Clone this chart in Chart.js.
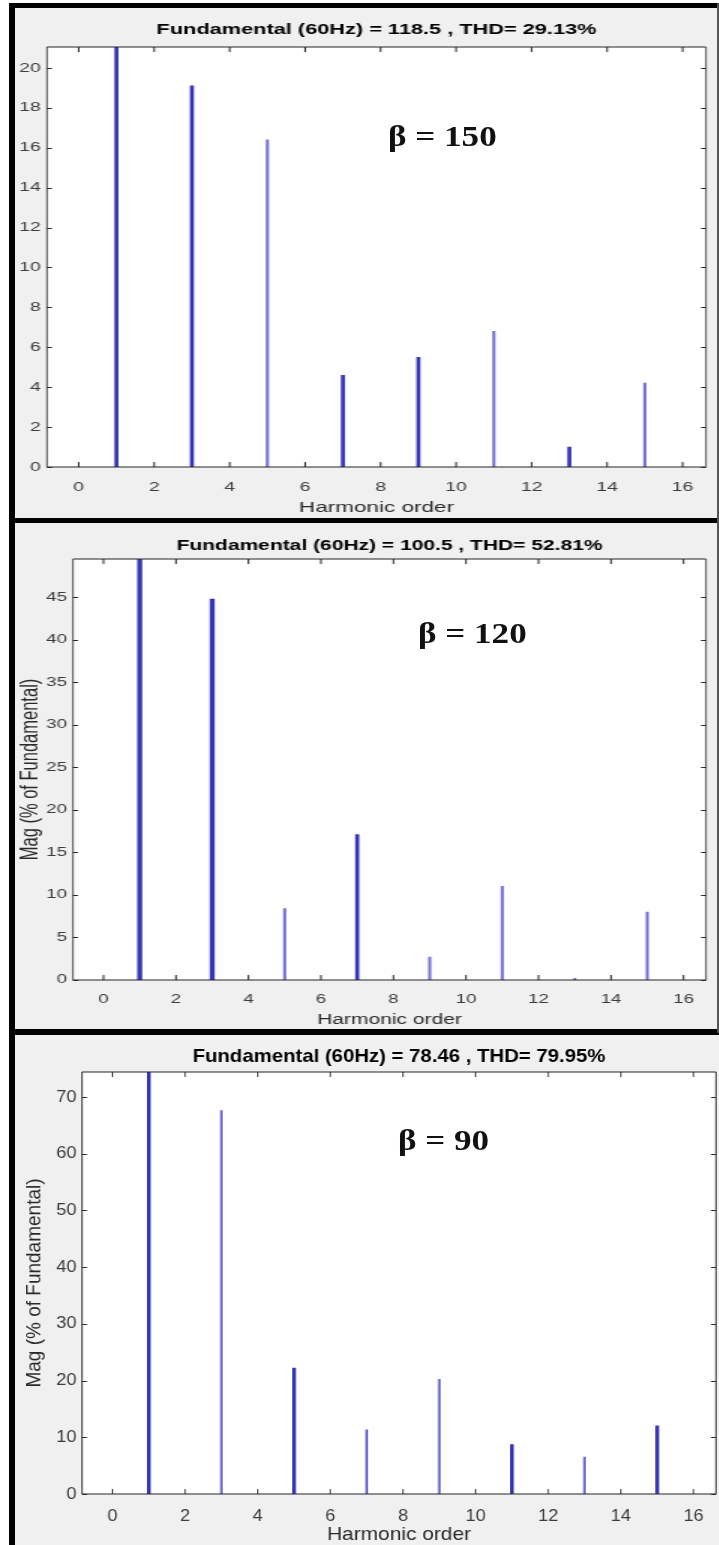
<!DOCTYPE html>
<html><head><meta charset="utf-8">
<script src="https://cdn.jsdelivr.net/npm/chart.js@4.4.1/dist/chart.umd.min.js"></script>
<style>
html,body{margin:0;padding:0;background:#fff;}
#root{position:relative;width:719px;height:1545px;overflow:hidden;background:#fff;}
.blk{position:absolute;background:#000;}
.bg{position:absolute;background:#f0f0f0;}
canvas{position:absolute;transform-origin:0 0;}
.beta{position:absolute;font-family:'Liberation Serif','Times New Roman',serif;font-weight:bold;font-size:30px;line-height:1;color:#111;white-space:nowrap;transform-origin:0 0;transform:scaleX(1.17);}
</style></head><body>
<div id="root">
  <div class="bg" style="left:15px;top:8px;width:704px;height:1537px;"></div>
  <div class="blk" style="left:9px;top:3px;width:6px;height:1542px;"></div>
  <div class="blk" style="left:9px;top:3px;width:710px;height:5px;"></div>
  <div class="blk" style="left:9px;top:518px;width:710px;height:5px;"></div>
  <div class="blk" style="left:9px;top:1029px;width:710px;height:6px;"></div>
  <div style="position:absolute;left:717px;top:3px;width:2px;height:1030px;background:#555;"></div>
  <canvas id="c1"></canvas>
  <canvas id="c2"></canvas>
  <canvas id="c3"></canvas>
  <div class="beta" style="left:388px;top:121px;">β = 150</div>
  <div class="beta" style="left:418px;top:618px;">β = 120</div>
  <div class="beta" style="left:398px;top:1125px;">β = 90</div>
</div>
<script>
// ---- data ----
const harmonicOrders = [1, 3, 5, 7, 9, 11, 13, 15];
const magBeta150 = [100, 19.1, 16.4, 4.6, 5.5, 6.8, 1.0, 4.2];
const magBeta120 = [100, 44.8, 8.4, 17.1, 2.7, 11.0, 0.2, 8.0];
const magBeta90  = [100, 67.6, 22.2, 11.3, 20.2, 8.7, 6.5, 12.0];
const titleBeta150 = 'Fundamental (60Hz) = 118.5 , THD= 29.13%';
const titleBeta120 = 'Fundamental (60Hz) = 100.5 , THD= 52.81%';
const titleBeta90  = 'Fundamental (60Hz) = 78.46 , THD= 79.95%';
const xTicks = [0, 2, 4, 6, 8, 10, 12, 14, 16];
const yTicks150 = [0, 2, 4, 6, 8, 10, 12, 14, 16, 18, 20];
const yTicks120 = [0, 5, 10, 15, 20, 25, 30, 35, 40, 45];
const yTicks90  = [0, 10, 20, 30, 40, 50, 60, 70];
const xAxisLabel = 'Harmonic order';
const yAxisLabel = 'Mag (% of Fundamental)';

// ---- styles ----
const FONT = "'Liberation Sans', Arial, sans-serif";
const DARK = '#3434b8', LIGHT = '#6e6ed8';
const XMIN = -0.84, XMAX = 16.62;

const framePlugin = {
  id: 'frame',
  beforeDatasetsDraw(chart) {
    const a = chart.chartArea, c = chart.ctx;
    c.save(); c.fillStyle = '#fff'; c.fillRect(a.left, a.top, a.right - a.left, a.bottom - a.top); c.restore();
  },
  afterDatasetsDraw(chart, args, opts) {
    const a = chart.chartArea, c = chart.ctx, s = opts.s;
    const xs = chart.scales.x, ys = chart.scales.y;
    c.save();
    c.strokeStyle = '#262626';
    c.lineWidth = 1;
    c.beginPath();
    xs.ticks.forEach(t => {
      const px = xs.getPixelForValue(t.value);
      c.moveTo(px, a.bottom); c.lineTo(px, a.bottom - 5);
      c.moveTo(px, a.top); c.lineTo(px, a.top + 5);
    });
    ys.ticks.forEach(t => {
      const py = Math.round(ys.getPixelForValue(t.value)) + 0.5;
      c.moveTo(a.left, py); c.lineTo(a.left + 5 / s, py);
      c.moveTo(a.right, py); c.lineTo(a.right - 5 / s, py);
    });
    c.stroke();
    c.lineWidth = 1.2 / s;
    c.beginPath();
    c.moveTo(a.left, a.top); c.lineTo(a.left, a.bottom);
    c.moveTo(a.right, a.top); c.lineTo(a.right, a.bottom);
    c.stroke();
    c.lineWidth = 1.2;
    c.beginPath();
    c.moveTo(a.left, a.top); c.lineTo(a.right, a.top);
    c.moveTo(a.left, a.bottom); c.lineTo(a.right, a.bottom);
    c.stroke();
    c.restore();
  }
};

function makeChart(id, p) {
  const el = document.getElementById(id);
  const W = Math.round(p.pageW / p.s);
  el.width = W; el.height = p.H;
  el.style.width = W + 'px'; el.style.height = p.H + 'px';
  el.style.left = p.pageLeft + 'px'; el.style.top = p.pageTop + 'px';
  el.style.transform = 'scaleX(' + (p.pageW / W) + ')';
  const datasets = harmonicOrders.map((h, i) => ({
    data: [{ x: h, y: p.values[i] }],
    backgroundColor: p.widths[i] >= 3 ? DARK : LIGHT,
    barThickness: p.widths[i] / p.s,
    grouped: false,
    borderWidth: 0
  }));
  return new Chart(el, {
    type: 'bar',
    data: { datasets },
    options: {
      responsive: false, animation: false, devicePixelRatio: 1,
      layout: { padding: { left: 0, right: W - (p.boxRight - p.pageLeft) / (p.pageW / W), top: 0, bottom: 0 } },
      plugins: {
        legend: { display: false }, tooltip: { enabled: false },
        title: { display: true, text: p.title, fullSize: false, color: '#000',
          font: { family: FONT, size: p.titleSize, weight: 'bold', lineHeight: 1.2 },
          padding: { top: p.titleCenter - p.titleSize * 0.6, bottom: p.boxTop - (p.titleCenter + p.titleSize * 0.6) } },
        frame: { s: p.pageW / W }
      },
      scales: {
        x: {
          type: 'linear', min: XMIN, max: XMAX, offset: false,
          afterBuildTicks: sc => { sc.ticks = xTicks.map(v => ({ value: v })); },
          afterFit: sc => { sc.height = p.H - p.boxBottom; },
          grid: { display: false, drawTicks: false, offset: false }, border: { display: false },
          ticks: { color: '#3c3c3c', font: { family: FONT, size: p.tickSize, lineHeight: 1.2 },
                   padding: p.xTickGap - p.tickSize * 0.6, maxRotation: 0, autoSkip: false },
          title: { display: true, text: xAxisLabel, color: '#2a2a2a',
                   font: { family: FONT, size: p.labelSize, lineHeight: 1 },
                   padding: { top: 0, bottom: p.xLabelFromBottom - p.labelSize / 2 } }
        },
        y: {
          min: 0, max: p.ymax,
          afterBuildTicks: sc => { sc.ticks = p.yTicks.map(v => ({ value: v })); },
          afterFit: sc => { sc.width = (p.boxLeft - p.pageLeft) / (p.pageW / W); },
          grid: { display: false, drawTicks: false }, border: { display: false },
          ticks: { color: '#3c3c3c', font: { family: FONT, size: p.tickSize }, padding: p.yTickGap },
          title: { display: p.showYLabel, text: yAxisLabel, color: '#2a2a2a',
                   font: { family: FONT, size: p.yLabelSize, lineHeight: 1 },
                   padding: { top: p.yLabelCenter - p.yLabelSize / 2, bottom: 0 } }
        }
      }
    },
    plugins: [framePlugin]
  });
}

makeChart('c1', {
  values: magBeta150, title: titleBeta150, yTicks: yTicks150, ymax: 21.05,
  widths: [3, 3, 2, 3, 3, 2, 3, 2],
  s: 1.5, pageLeft: 15, pageW: 702, pageTop: 8, H: 510,
  boxLeft: 47, boxRight: 706, boxTop: 39, boxBottom: 459,
  titleSize: 14.5, titleCenter: 22, tickSize: 13, xTickGap: 20, yTickGap: 4,
  labelSize: 15, xLabelFromBottom: 10, showYLabel: false, yLabelSize: 15, yLabelCenter: 10
});
makeChart('c2', {
  values: magBeta120, title: titleBeta120, yTicks: yTicks120, ymax: 49.5,
  widths: [4, 4, 2, 3, 2, 2, 2, 2],
  s: 1.5, pageLeft: 15, pageW: 702, pageTop: 523, H: 506,
  boxLeft: 73, boxRight: 706, boxTop: 36, boxBottom: 457,
  titleSize: 14, titleCenter: 23, tickSize: 12.5, xTickGap: 20, yTickGap: 4,
  labelSize: 14, xLabelFromBottom: 9, showYLabel: true, yLabelSize: 16.5, yLabelCenter: 10
});
makeChart('c3', {
  values: magBeta90, title: titleBeta90, yTicks: yTicks90, ymax: 74.4,
  widths: [3, 2, 3, 2, 2, 3, 2, 3],
  s: 1.1, pageLeft: 15, pageW: 704, pageTop: 1035, H: 510,
  boxLeft: 82, boxRight: 716, boxTop: 37, boxBottom: 459,
  titleSize: 18.5, titleCenter: 22, tickSize: 16.5, xTickGap: 22, yTickGap: 5,
  labelSize: 19, xLabelFromBottom: 10, showYLabel: true, yLabelSize: 19, yLabelCenter: 18
});
</script>
</body></html>
